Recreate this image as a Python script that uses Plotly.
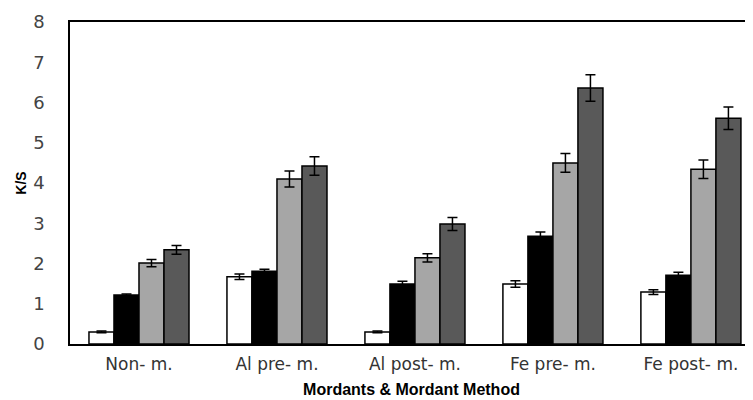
import plotly.graph_objects as go

categories = ["Non- m.", "Al pre- m.", "Al post- m.", "Fe pre- m.", "Fe post- m."]
series_names = ["Series 1", "Series 2", "Series 3", "Series 4"]
values = [
    [0.30, 1.67, 0.30, 1.49, 1.29],
    [1.22, 1.81, 1.49, 2.68, 1.71],
    [2.01, 4.10, 2.14, 4.50, 4.34],
    [2.34, 4.42, 2.98, 6.36, 5.61],
]
errors = [
    [0.02, 0.07, 0.02, 0.08, 0.06],
    [0.02, 0.05, 0.07, 0.10, 0.07],
    [0.09, 0.20, 0.10, 0.23, 0.23],
    [0.11, 0.23, 0.16, 0.33, 0.28],
]
colors = ["#ffffff", "#000000", "#a6a6a6", "#595959"]
y_ticks = [0, 1, 2, 3, 4, 5, 6, 7, 8]

fig = go.Figure()
for name, vals, errs, col in zip(series_names, values, errors, colors):
    fig.add_trace(go.Bar(
        x=categories, y=vals, name=name,
        marker=dict(color=col, line=dict(color="#000000", width=1.5)),
        error_y=dict(type="data", array=errs, visible=True,
                     color="#000000", thickness=1.5, width=5),
    ))

# page body has an 8px default margin, so the figure is sized/positioned to compensate
fig.update_layout(
    width=745, height=392,
    margin=dict(l=62, r=0, t=14, b=56, autoexpand=False),
    barmode="group", bargap=0.275, bargroupgap=0,
    plot_bgcolor="#ffffff", paper_bgcolor="#ffffff",
    showlegend=False,
    font=dict(family="DejaVu Sans", color="#222222"),
)
fig.update_xaxes(
    range=[-0.5, 4.45], showline=True, linecolor="#000000", linewidth=1.5,
    mirror=True, ticks="", showgrid=False, automargin=False, ticklabelstandoff=4,
    tickfont=dict(size=17, color="#333333", family="DejaVu Sans"),
    title=dict(text="<b>Mordants & Mordant Method</b>", standoff=11,
               font=dict(size=16, color="#000000", family="Liberation Sans")),
)
fig.update_yaxes(
    range=[0, 8], tickvals=y_ticks, showline=True, linecolor="#000000", linewidth=1.5,
    ticks="", showgrid=False, zeroline=False, ticklabelstandoff=20, automargin=False,
    tickfont=dict(size=18, color="#444444", family="DejaVu Sans"),
    title=dict(text="<b>K/S</b>", standoff=3,
               font=dict(size=14, color="#000000", family="Liberation Sans")),
)

fig.write_html("out.html")
